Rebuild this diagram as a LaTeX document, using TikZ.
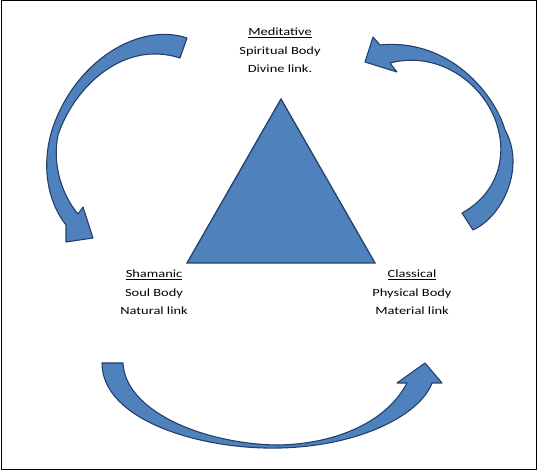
\documentclass[tikz,border=0pt]{standalone}
\usepackage{fontspec}
\usetikzlibrary{positioning}

\newfontfamily\lblfont{Carlito}[FakeStretch=1.31]
\definecolor{shapeblue}{HTML}{4F81BD}
\definecolor{edgeblue}{HTML}{24406A}

\tikzset{
	lbl/.style = {font=\lblfont\fontsize{11}{13}\selectfont, inner sep=0pt, text height=8pt, text depth=3pt},
	bluearrow/.style = {fill=shapeblue, draw=edgeblue, line width=1.1pt, line join=round},
}

\begin{document}
\begin{tikzpicture}[x=1pt, y=-1pt]
	\useasboundingbox (0,0) rectangle (539,473);
	\draw[line width=1pt] (1,1) rectangle (536,470);

	% triangle
	\draw[fill=shapeblue, draw=edgeblue, line width=1.3pt, line join=miter]
		(281,99) -- (375,263) -- (187,263) -- cycle;

	% labels
	\node[lbl] (med) at (280,33.1) {\underline{Meditative}};
	\node[lbl] (spirit) [node distance = 18.6pt] [below of = med] {Spiritual Body};
	\node[lbl] (divine) [node distance = 18.6pt] [below of = spirit] {Divine link.};
	\node[lbl] (sham) at (154,275.2) {\underline{Shamanic}};
	\node[lbl] (soul) [node distance = 18.6pt] [below of = sham] {Soul Body};
	\node[lbl] (natural) [node distance = 18.6pt] [below of = soul] {Natural link};
	\node[lbl] (class) at (412,275.2) {\underline{Classical}};
	\node[lbl] (phys) [node distance = 18.6pt] [below of = class] {Physical Body};
	\node[lbl] (material) [node distance = 18.6pt] [below of = phys] {Material link};

	% curved arrows
	\draw[bluearrow] (187,38) .. controls (140,22) and (75,60) .. (52,130)
		.. controls (40,170) and (50,205) .. (66,225)
		-- (66,242) -- (93,238) -- (83,207) -- (78,214)
		.. controls (62,195) and (52,165) .. (58,135)
		.. controls (75,85) and (125,40) .. (180,58) -- cycle;
	\draw[bluearrow] (473,230) .. controls (505,215) and (525,165) .. (505,130)
		.. controls (495,95) and (450,38) .. (380,45)
		-- (373,37) -- (365,62) -- (397,72) -- (390,63)
		.. controls (440,50) and (485,85) .. (497,125)
		.. controls (508,160) and (495,195) .. (462,213) -- cycle;
	\draw[bluearrow] (102,363) .. controls (102,420) and (200,450) .. (280,448)
		.. controls (360,446) and (420,415) .. (432,383)
		-- (442,383) -- (425,363) -- (397,383) -- (407,383)
		.. controls (385,425) and (330,445) .. (275,445)
		.. controls (200,443) and (125,410) .. (123,363) -- cycle;
\end{tikzpicture}
\end{document}
